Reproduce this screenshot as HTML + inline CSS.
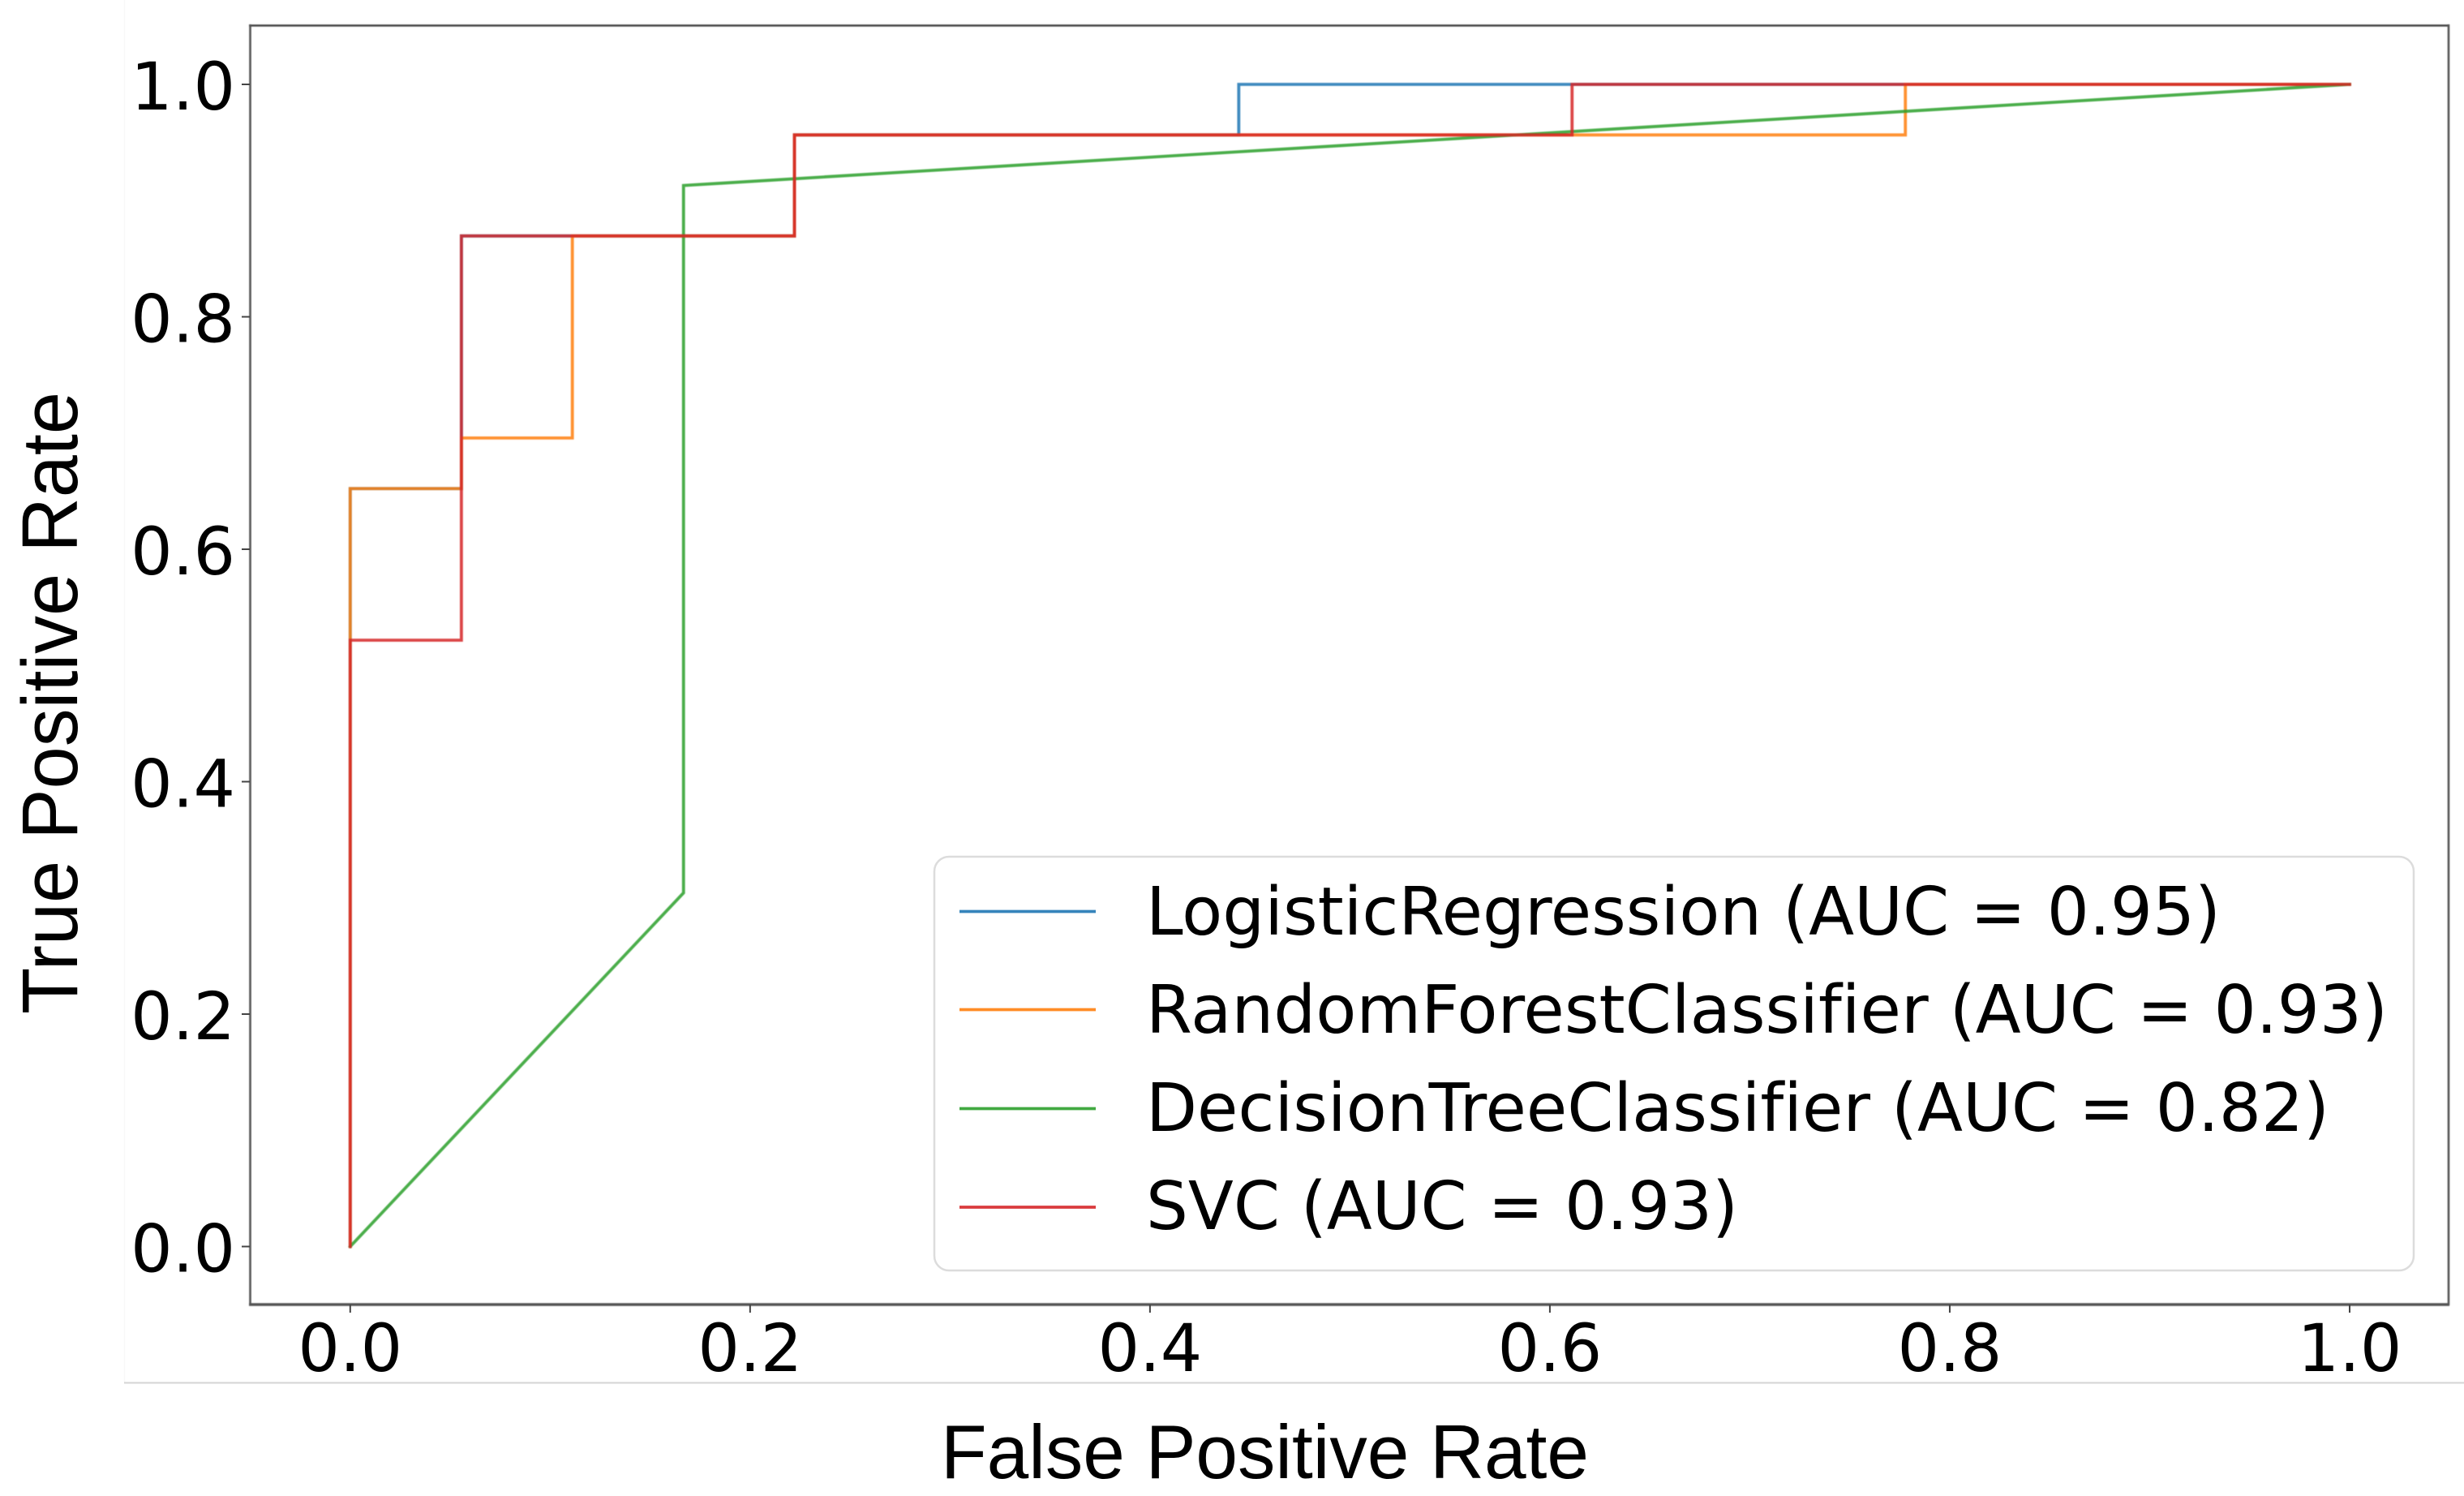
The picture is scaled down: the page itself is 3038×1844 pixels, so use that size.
<!DOCTYPE html>
<html lang="en">
<head>
<meta charset="utf-8">
<title>ROC curves</title>
<style>
  html, body { margin: 0; padding: 0; background: #fff; }
  svg { display: block; }
  text { font-variant-ligatures: none; }
  .tick-label { font-family: "DejaVu Sans", "Liberation Sans", sans-serif; font-size: 81px; fill: #000; }
  .legend-label { font-family: "DejaVu Sans", "Liberation Sans", sans-serif; font-size: 82px; fill: #000; }
  .axis-title { font-family: "Liberation Sans", Arial, sans-serif; font-size: 94px; fill: #000; }
</style>
</head>
<body>
<svg id="chart" xmlns="http://www.w3.org/2000/svg" width="3038" height="1844" viewBox="0 0 3038 1844">
  <rect x="0" y="0" width="3038" height="1844" fill="#ffffff"/>
  <line x1="153.5" y1="0" x2="153.5" y2="1704" stroke="#f8f8f8" stroke-width="1.5"/>
  <line x1="153" y1="1704.5" x2="3038" y2="1704.5" stroke="#d4d4d4" stroke-width="2"/>

  <g id="marks" style="filter:blur(0.5px)"></g>

  <g id="axes" style="filter:blur(0.4px)">
    <line x1="307" y1="31.5" x2="3020" y2="31.5" stroke="#444" stroke-width="2.6"/>
    <line x1="308.5" y1="30" x2="308.5" y2="1609" stroke="#555" stroke-width="2.6"/>
    <line x1="3019" y1="30" x2="3019" y2="1609" stroke="#555" stroke-width="2.6"/>
    <line x1="307" y1="1608" x2="3020" y2="1608" stroke="#555" stroke-width="3.6"/>
  </g>

  <g id="x-ticks"></g>
  <g id="y-ticks"></g>

  <text class="axis-title" x="1160" y="1822" textLength="799" lengthAdjust="spacingAndGlyphs">False Positive Rate</text>
  <text class="axis-title" style="font-size:97px" transform="translate(95,1250) rotate(-90)" x="0" y="0" textLength="767" lengthAdjust="spacingAndGlyphs">True Positive Rate</text>

  <g>
    <rect x="1152" y="1056" width="1824" height="510" rx="18" ry="18" fill="#ffffff" stroke="#dcdcdc" stroke-width="2.5"/>
    <line x1="1183" y1="1123.5" x2="1351" y2="1123.5" stroke="#1f77b4" stroke-opacity="0.9" stroke-width="3.8"/>
    <text class="legend-label" x="1413" y="1152" textLength="1325" lengthAdjust="spacingAndGlyphs">LogisticRegression (AUC = 0.95)</text>
    <line x1="1183" y1="1244.5" x2="1351" y2="1244.5" stroke="#ff7f0e" stroke-opacity="0.9" stroke-width="3.8"/>
    <text class="legend-label" x="1413" y="1273" textLength="1531" lengthAdjust="spacingAndGlyphs">RandomForestClassifier (AUC = 0.93)</text>
    <line x1="1183" y1="1366.5" x2="1351" y2="1366.5" stroke="#2ca02c" stroke-opacity="0.9" stroke-width="3.8"/>
    <text class="legend-label" x="1413" y="1394" textLength="1459" lengthAdjust="spacingAndGlyphs">DecisionTreeClassifier (AUC = 0.82)</text>
    <line x1="1183" y1="1488" x2="1351" y2="1488" stroke="#d62728" stroke-opacity="0.9" stroke-width="3.8"/>
    <text class="legend-label" x="1413" y="1515" textLength="730" lengthAdjust="spacingAndGlyphs">SVC (AUC = 0.93)</text>
  </g>
</svg>

<script>
// Chart data
const xTickValues = [0.0, 0.2, 0.4, 0.6, 0.8, 1.0];
const yTickValues = [0.0, 0.2, 0.4, 0.6, 0.8, 1.0];
const xTickLabels = ["0.0", "0.2", "0.4", "0.6", "0.8", "1.0"];
const yTickLabels = ["0.0", "0.2", "0.4", "0.6", "0.8", "1.0"];

const logisticFpr = [0, 0, 0.0556, 0.0556, 0.2222, 0.2222, 0.4444, 0.4444, 1];
const logisticTpr = [0, 0.6522, 0.6522, 0.8696, 0.8696, 0.9565, 0.9565, 1, 1];

const forestFpr = [0, 0, 0.0556, 0.0556, 0.1111, 0.1111, 0.2222, 0.2222, 0.7778, 0.7778, 1];
const forestTpr = [0, 0.6522, 0.6522, 0.6957, 0.6957, 0.8696, 0.8696, 0.9565, 0.9565, 1, 1];

const treeFpr = [0, 0.1667, 0.1667, 1];
const treeTpr = [0, 0.3043, 0.913, 1];

const svcFpr = [0, 0, 0.0556, 0.0556, 0.2222, 0.2222, 0.6111, 0.6111, 1];
const svcTpr = [0, 0.5217, 0.5217, 0.8696, 0.8696, 0.9565, 0.9565, 1, 1];

const SVG_NS = "http://www.w3.org/2000/svg";

// Axis functions
function xScale(v) { return 431.8 + v * 2465.2; }
function yScale(v) { return 1536.5 - v * 1432.5; }

function drawSeries(name, fpr, tpr, color) {
  const line = document.createElementNS(SVG_NS, "polyline");
  
  
  const pts = fpr.map(function (f, i) {
    return xScale(f).toFixed(2) + "," + yScale(tpr[i]).toFixed(2);
  });
  line.setAttribute("points", pts.join(" "));
  line.setAttribute("fill", "none");
  line.setAttribute("stroke", color);
  line.setAttribute("stroke-opacity", "0.85");
  line.setAttribute("stroke-width", "3.8");
  line.setAttribute("stroke-linejoin", "miter");
  line.setAttribute("stroke-linecap", "square");
  document.getElementById("marks").appendChild(line);
}

drawSeries("series-logistic-regression", logisticFpr, logisticTpr, "#1f77b4");
drawSeries("series-random-forest", forestFpr, forestTpr, "#ff7f0e");
drawSeries("series-decision-tree", treeFpr, treeTpr, "#2ca02c");
drawSeries("series-svc", svcFpr, svcTpr, "#d62728");

const xGroup = document.getElementById("x-ticks");
xTickValues.forEach(function (v, i) {
  const px = xScale(v);
  const tick = document.createElementNS(SVG_NS, "line");
  
  
  tick.setAttribute("x1", px);
  tick.setAttribute("x2", px);
  tick.setAttribute("y1", 1608);
  tick.setAttribute("y2", 1618);
  tick.setAttribute("stroke", "#444");
  tick.setAttribute("stroke-width", "2");
  xGroup.appendChild(tick);

  const label = document.createElementNS(SVG_NS, "text");
  
  
  label.setAttribute("class", "tick-label");
  label.setAttribute("x", px);
  label.setAttribute("y", 1690);
  label.setAttribute("text-anchor", "middle");
  label.textContent = xTickLabels[i];
  xGroup.appendChild(label);
});

const yGroup = document.getElementById("y-ticks");
yTickValues.forEach(function (v, i) {
  const py = yScale(v);
  const tick = document.createElementNS(SVG_NS, "line");
  
  
  tick.setAttribute("x1", 298);
  tick.setAttribute("x2", 308);
  tick.setAttribute("y1", py);
  tick.setAttribute("y2", py);
  tick.setAttribute("stroke", "#444");
  tick.setAttribute("stroke-width", "2");
  yGroup.appendChild(tick);

  const label = document.createElementNS(SVG_NS, "text");
  
  
  label.setAttribute("class", "tick-label");
  label.setAttribute("x", 290);
  label.setAttribute("y", py + 31);
  label.setAttribute("text-anchor", "end");
  label.textContent = yTickLabels[i];
  yGroup.appendChild(label);
});
</script>
</body>
</html>
